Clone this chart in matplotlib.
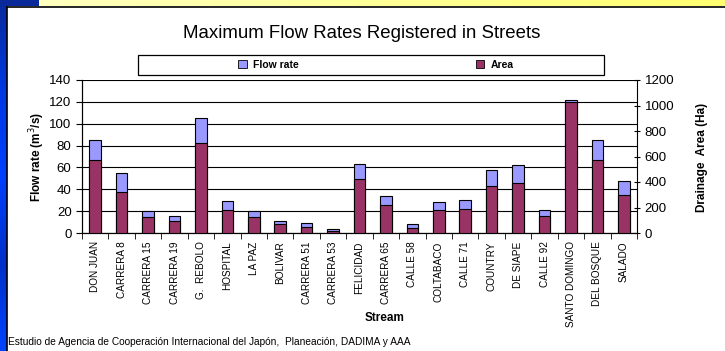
import matplotlib.pyplot as plt
import numpy as np
from matplotlib.patches import Rectangle, Patch

plt.rcParams['font.family'] = ['Liberation Sans', 'DejaVu Sans']

# Data
streams = ['DON JUAN', 'CARRERA 8', 'CARRERA 15', 'CARRERA 19', 'G.  REBOLO',
           'HOSPITAL', 'LA PAZ', 'BOLIVAR', 'CARRERA 51', 'CARRERA 53',
           'FELICIDAD', 'CARRERA 65', 'CALLE 58', 'COLTABACO', 'CALLE 71',
           'COUNTRY', 'DE SIAPE', 'CALLE 92', 'SANTO DOMINGO', 'DEL BOSQUE',
           'SALADO']
flow_rate = [85, 55, 20, 15.5, 105, 29, 20.5, 11, 9, 3.7,
             63, 34, 8, 28.3, 29.8, 58, 62, 21, 122, 85, 48]
area = [574, 321, 125, 94, 705, 177, 125, 70, 47, 16,
        423, 222, 39, 177, 188, 368, 392, 133, 1024, 572, 297]

blue = '#9999FF'
maroon = '#993366'

fig = plt.figure(figsize=(7.25, 3.51), dpi=100)
fig.patch.set_facecolor('white')

# slide frame: blue strip on the left, yellow strip on top
bg = fig.add_axes([0, 0, 1, 1], zorder=-5)
bg.axis('off')
cmaps = plt.matplotlib.colors
grad = np.linspace(0, 1, 256).reshape(-1, 1)
bg.imshow(grad, extent=(0, 7, 351, 0), aspect='auto',
          cmap=cmaps.LinearSegmentedColormap.from_list(
              'b', ['#0a2a9a', '#0038e0', '#0040ff', '#0030c8', '#0044ff']))
bg.imshow(np.array([[0.0]]), extent=(0, 39, 6, 0), aspect='auto',
          cmap=cmaps.ListedColormap(['#0a2a9a']))
ygrad = np.linspace(0, 1, 256).reshape(1, -1)
bg.imshow(ygrad, extent=(39, 725, 6, 0), aspect='auto',
          cmap=cmaps.LinearSegmentedColormap.from_list('y', ['#ffffc0', '#ffff70']))
bg.plot([7.5, 725], [6.5, 6.5], color='black', lw=1.2)
bg.plot([7.5, 7.5], [6.5, 351], color='black', lw=1.2)
bg.set_xlim(0, 725)
bg.set_ylim(351, 0)

ax = fig.add_axes([82 / 725, 1 - 233 / 351, 555 / 725, 153 / 351])
ax2 = ax.twinx()

x = np.arange(len(streams))
ax.bar(x, flow_rate, width=0.44, color=blue, edgecolor='black', linewidth=0.8, zorder=3)
ax2.bar(x, area, width=0.44, color=maroon, edgecolor='black', linewidth=0.8, zorder=3)

ax.set_ylim(0, 140)
ax2.set_ylim(0, 1200)
ax.set_xlim(-0.5, len(streams) - 0.5)
ax.set_yticks(np.arange(0, 141, 20))
ax2.set_yticks(np.arange(0, 1201, 200))
ax.yaxis.grid(True, color='black', linewidth=0.8)
ax.set_axisbelow(True)

ax.set_xticks(x)
ax.set_xticklabels(streams, rotation=90, fontsize=7.2)
ax.set_xticks(np.arange(-0.5, len(streams)), minor=True)
ax.tick_params(axis='x', which='major', length=0, pad=6)
ax.tick_params(axis='x', which='minor', length=4, direction='out')
ax.tick_params(axis='y', labelsize=9.5, length=4, direction='out')
ax2.tick_params(axis='y', labelsize=9.5, length=4, direction='inout')

for a in (ax, ax2):
    a.spines['top'].set_visible(False)
ax.spines['right'].set_visible(False)

fig.text(362 / 725, 1 - 33 / 351, 'Maximum Flow Rates Registered in Streets',
         ha='center', va='center', fontsize=13.4)
fig.text(37 / 725, 1 - 157 / 351, 'Flow rate (m$^3$/s)', rotation=90,
         ha='center', va='center', fontsize=8.5, fontweight='bold')
fig.text(702 / 725, 1 - 157 / 351, 'Drainage  Area (Ha)', rotation=90,
         ha='center', va='center', fontsize=8.5, fontweight='bold')
fig.text(385 / 725, 1 - 318 / 351, 'Stream', ha='center', va='center',
         fontsize=8.5, fontweight='bold')
fig.text(8 / 725, 1 - 342 / 351,
         'Estudio de Agencia de Cooperación Internacional del Japón,  Planeación, DADIMA y AAA',
         ha='left', va='center', fontsize=7.3)

# legend box
bg.add_patch(Rectangle((138, 55), 466, 20, fill=False, edgecolor='black', lw=0.9))
handles = [Patch(facecolor=blue, edgecolor='black', lw=0.6),
           Patch(facecolor=maroon, edgecolor='black', lw=0.6)]
fig.legend(handles, ['Flow rate', 'Area'], ncol=2, frameon=False,
           loc='center', bbox_to_anchor=(376 / 725, 1 - 65 / 351),
           prop={'weight': 'bold', 'size': 7.5}, handlelength=0.8,
           handleheight=0.8, handletextpad=0.6, columnspacing=17)

fig.savefig('out.png', dpi=100)
